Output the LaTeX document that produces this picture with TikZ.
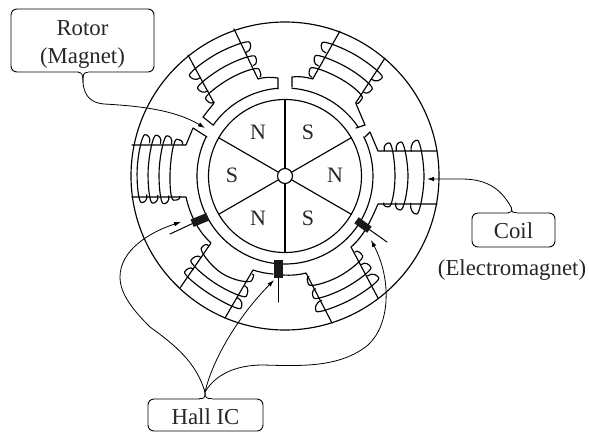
\documentclass[tikz,border=0pt]{standalone}
\usepackage{fontspec}
\setmainfont{Liberation Serif}
\usetikzlibrary{arrows.meta}
\tikzset{
  body/.style={line width=1.15pt,line cap=round,line join=round},
  wire/.style={line width=0.8pt,line cap=round},
  tipped/.style={wire,-{Latex[length=7pt,width=4.5pt]}},
  callout/.style={draw,line width=0.9pt,rounded corners=6pt,inner sep=0pt,align=center,font=\fontsize{22.8}{28}\selectfont,text=black!85},
  pole/.style={font=\fontsize{22}{24}\selectfont,text=black!85,inner sep=0pt},
  sensor/.style={fill=black!90,draw=none,inner sep=0pt}
}
\newcommand{\turn}[5]{% x0, tip x, line x, bump on +y side, bump on -y side
  \draw[body] (#1,26) .. controls (#1-1,26+0.7*#4) and (#2-3,26+#4) .. (#2,26+#4)
    .. controls (#2+3,26+#4) and (#3,14) .. (#3,0)
    .. controls (#3,-14) and (#2+3,-26-#5) .. (#2,-26-#5)
    .. controls (#2-3,-26-#5) and (#1-1,-26-0.7*#5) .. (#1,-26);}
\begin{document}
\begin{tikzpicture}[x=1pt,y=-1pt]
\useasboundingbox (0,0) rectangle (589,432);
\coordinate (c) at (285,176);
% outer yoke, rotor
\draw[body] (c) circle[radius=154pt];
\draw[body] (c) circle[radius=76.5pt];
% spokes and hub
\node[circle,draw,body,minimum size=15pt,inner sep=0pt] (hub) at (c) {};
\begin{scope}[shift={(c)},x=1pt,y=1pt]
  \foreach \a in {30,90,150,210,270,330} \draw[body] (\a:7.5) -- (\a:76.5);
  % inner stator arcs
  \draw[body] (34:88) arc[start angle=34,end angle=85.5,radius=88pt];
  \draw[body] (94.6:88) arc[start angle=94.6,end angle=144.7,radius=88pt];
  \draw[body] (153.4:88) arc[start angle=153.4,end angle=386.5,radius=88pt];
  % coils
  \begin{scope}[rotate=-0.5]
    \turn{99}{104}{110}{8}{4}\turn{111}{116}{123}{9}{7}\turn{126}{132}{139}{11}{11}
  \end{scope}
  \begin{scope}[rotate=60]
    \turn{99}{106}{112}{6}{2}\turn{112}{119}{125}{8}{6}\turn{127}{134}{140}{8.5}{9}
  \end{scope}
  \begin{scope}[rotate=119]
    \turn{99}{106}{112}{6}{3}\turn{112}{119}{125}{8}{6}\turn{127}{134}{140}{9}{8}
  \end{scope}
  \begin{scope}[rotate=177]
    \turn{104}{110}{115}{4}{5}\turn{115}{120}{126}{8}{8}\turn{126}{131}{137}{8}{8}\turn{137}{142}{148}{8}{8}
  \end{scope}
  \begin{scope}[rotate=237]
    \turn{100}{106}{116}{3}{5}\turn{114}{122}{128}{7}{7}\turn{128}{135}{140}{9}{6}
  \end{scope}
  \begin{scope}[rotate=298]
    \turn{100}{107}{114}{5}{4}\turn{114}{121}{127}{7}{6}\turn{127}{134}{140}{9}{10}
  \end{scope}
\end{scope}
% stator contours
\draw[body] (365,137) -- (370,132) -- (378,151) -- (437,151);
\draw[body] (437,204) -- (378,204) .. controls (371,220) and (364,236) .. (351,247) -- (378,298);
\draw[body] (332,323) -- (306,273) .. controls (299,275) and (291,275.5) .. (283,275);
\draw[body] (273,274) .. controls (266,273.5) and (259,272) .. (253,270) -- (225,318);
\draw[body] (180,288) -- (211,243) .. controls (198,231) and (190,215) .. (186,197) -- (132,197);
\draw[body] (132,145) -- (186,145) -- (193,128) -- (207,137);
\draw[body] (203,117) -- (213,125);
\draw[body] (203,117) -- (214,103) -- (188,55);
\draw[body] (234,29) -- (258,79) .. controls (263,77) and (272,77) .. (278,78) -- (278,89);
\draw[body] (292,87) -- (292,77) .. controls (298,76) and (306,77) .. (312.7,79) -- (340,31);
\draw[body] (385,58) -- (355.7,103) -- (365,125) -- (356,128);
% Hall sensors
\node[sensor,minimum width=17pt,minimum height=8pt,rotate=22] (hl) at (200,220) {};
\node[sensor,minimum width=9pt,minimum height=18pt] (hb) at (278,269) {};
\node[sensor,minimum width=16pt,minimum height=7.5pt,rotate=-36] (hr) at (363,225) {};
\coordinate (lleadend) at (170,234);
\coordinate (bleadend) at (278,302);
\coordinate (rleadend) at (387,242);
\draw[wire,line width=1pt] (hl) -- (lleadend);
\draw[wire,line width=1pt] (hb) -- (bleadend);
\draw[wire,line width=1pt] (hr) -- (rleadend);
% pole labels
\node[pole] (n1) at (258,132) {N};
\node[pole] (s1) at (308,132) {S};
\node[pole] (s2) at (232,175) {S};
\node[pole] (n2) at (335,175) {N};
\node[pole] (n3) at (258,218) {N};
\node[pole] (s3) at (308,218) {S};
% call-outs
\node[callout,minimum width=143pt,minimum height=63pt] (rotorbox) at (82.5,40.5) {\rule{0pt}{22pt}Rotor\\(Magnet)};
\node[callout,minimum width=83pt,minimum height=34pt,text height=17pt,text depth=0pt] (coilbox) at (513.5,230) {Coil};
\node[font=\fontsize{22.8}{25}\selectfont,text=black!85,inner sep=0pt] (emag) at (512,270) {(Electromagnet)};
\node[callout,minimum width=115pt,minimum height=32pt,text height=19pt,text depth=0pt] (hallbox) at (205.5,415) {Hall IC};
% stems
\coordinate (rs) at (83,82);
\coordinate (cs) at (511.5,208);
\coordinate (hs) at (205,392);
\draw[white,line width=2pt] ([xshift=-4pt]rotorbox.south) -- ([xshift=5pt]rotorbox.south);
\draw[wire] ([xshift=-4pt]rotorbox.south) .. controls ([xshift=-1pt]rotorbox.south) and (83,74) .. (rs);
\draw[wire] ([xshift=5pt]rotorbox.south) .. controls ([xshift=1pt]rotorbox.south) and (83,74) .. (rs);
\draw[white,line width=2pt] ([xshift=-5pt]coilbox.north) -- ([xshift=3pt]coilbox.north);
\draw[wire] ([xshift=-5pt]coilbox.north) .. controls ([xshift=-2pt]coilbox.north) and (511.5,212) .. (cs);
\draw[wire] ([xshift=3pt]coilbox.north) .. controls ([xshift=-1pt]coilbox.north) and (511.5,212) .. (cs);
\draw[white,line width=2pt] ([xshift=-6pt]hallbox.north) -- ([xshift=6pt]hallbox.north);
\draw[wire] ([xshift=-6pt]hallbox.north) .. controls ([xshift=-1pt]hallbox.north) and (205,398) .. (hs);
\draw[wire] ([xshift=6pt]hallbox.north) .. controls ([xshift=1pt]hallbox.north) and (205,398) .. (hs);
% pointers
\coordinate (rt) at (205,128);
\coordinate (ct) at (427,179);
\coordinate (hlt) at (181,222);
\coordinate (hbt) at (274,280);
\coordinate (hrt) at (371,240);
\draw[tipped] (rs) .. controls (84,97) and (92,103) .. (104,104) .. controls (140,106) and (175,110) .. (rt);
\draw[tipped] (cs) .. controls (503,192) and (490,179) .. (462,179) -- (ct);
\draw[tipped] (hs) .. controls (196,362) and (175,345) .. (150,327) .. controls (135,312) and (120,295) .. (120,277) .. controls (120,250) and (150,232) .. (hlt);
\draw[tipped] (hs) .. controls (212,362) and (235,320) .. (hbt);
\draw[tipped] (hs) .. controls (215,375) and (235,365) .. (263,365) .. controls (300,366) and (340,368) .. (368,345) .. controls (390,325) and (392,280) .. (hrt);
\end{tikzpicture}
\end{document}
